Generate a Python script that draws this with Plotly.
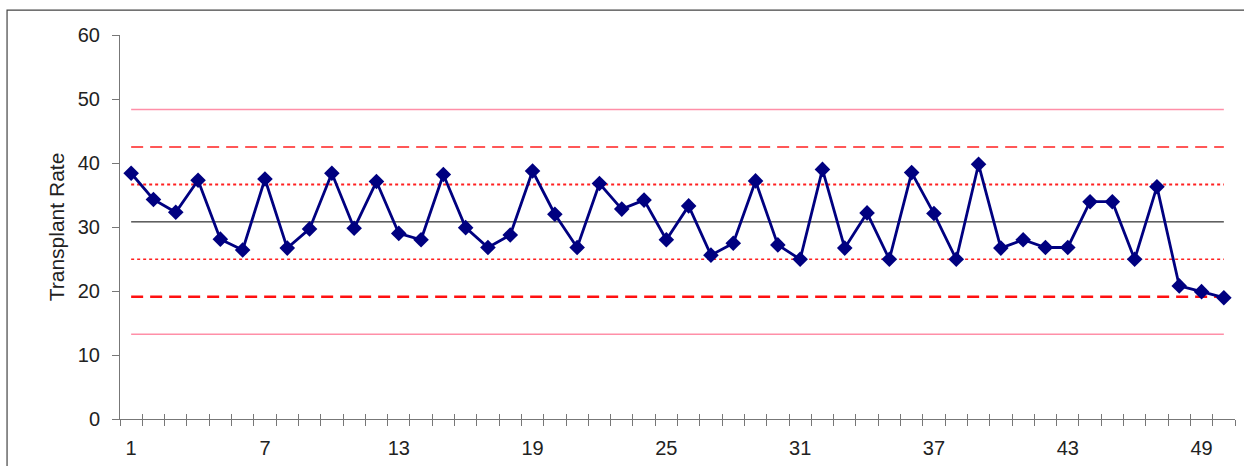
import plotly.graph_objects as go

# ---- data ----
samples = list(range(1, 51))
transplant_rate = [38.4, 34.3, 32.3, 37.3, 28.1, 26.4, 37.5, 26.7, 29.7, 38.4,
                   29.8, 37.1, 29.0, 28.0, 38.2, 29.9, 26.8, 28.75, 38.75, 32.0,
                   26.8, 36.8, 32.8, 34.2, 28.0, 33.3, 25.6, 27.45, 37.2, 27.2,
                   24.95, 39.0, 26.7, 32.2, 24.95, 38.5, 32.1, 24.95, 39.8, 26.7,
                   28.0, 26.8, 26.8, 33.95, 33.95, 24.95, 36.3, 20.8, 19.9, 18.95]
center_line = 30.8
upper_3s, upper_2s, upper_1s = 48.35, 42.5, 36.65
lower_1s, lower_2s, lower_3s = 24.95, 19.1, 13.25
x_tick_labels = [1, 7, 13, 19, 25, 31, 37, 43, 49]
y_ticks = [0, 10, 20, 30, 40, 50, 60]

fig = go.Figure()

limit_styles = [
    (upper_3s, dict(color="#ff8fa8", width=1.5, dash="solid")),
    (upper_2s, dict(color="#ff2020", width=1.5, dash="12px,7px")),
    (upper_1s, dict(color="#ff2020", width=2, dash="dot")),
    (center_line, dict(color="#000000", width=1, dash="solid")),
    (lower_1s, dict(color="#ff2020", width=1.5, dash="dot")),
    (lower_2s, dict(color="#ff1010", width=2.5, dash="12px,7px")),
    (lower_3s, dict(color="#ff8fa8", width=1.5, dash="solid")),
]
for val, style in limit_styles:
    fig.add_trace(go.Scatter(x=[samples[0], samples[-1]], y=[val, val],
                             mode="lines", line=style, hoverinfo="skip",
                             showlegend=False))

fig.add_trace(go.Scatter(x=samples, y=transplant_rate, mode="lines+markers",
                         line=dict(color="#000080", width=2.8),
                         marker=dict(symbol="diamond", size=12, color="#000080"),
                         showlegend=False))

font_main = "Liberation Sans, Arial, sans-serif"
boundaries = [s - 0.5 for s in samples] + [samples[-1] + 0.5]

fig.update_layout(
    width=1244, height=466,
    margin=dict(l=120, r=9, t=35, b=47),
    paper_bgcolor="white", plot_bgcolor="white",
    font=dict(family=font_main, color="#222222"),
    xaxis=dict(range=[0.5, 50.5], showgrid=False, zeroline=False,
               showline=True, linecolor="#777777", linewidth=1,
               automargin=False,
               tickmode="array", tickvals=x_tick_labels,
               ticktext=[str(v) for v in x_tick_labels],
               ticks="outside", ticklen=6, tickcolor="rgba(0,0,0,0)",
               ticklabelstandoff=5,
               tickfont=dict(size=20, family=font_main, color="#222222"),
               minor=dict(tickmode="array", tickvals=boundaries,
                          ticks="outside", ticklen=6, tickcolor="#777777",
                          tickwidth=1)),
    xaxis2=dict(range=[0.5, 50.5], overlaying="x", anchor="y", side="bottom",
                showgrid=False, zeroline=False, showline=False,
                automargin=False,
                tickmode="array", tickvals=boundaries, showticklabels=False,
                ticks="inside", ticklen=5, tickcolor="#777777", tickwidth=1),
    yaxis=dict(range=[0, 60], showgrid=False, zeroline=False,
               showline=True, linecolor="#777777", linewidth=1,
               automargin=False,
               tickmode="array", tickvals=y_ticks,
               ticks="outside", ticklen=7, tickcolor="#777777",
               ticklabelstandoff=8,
               tickfont=dict(size=20, family=font_main, color="#222222"),
               title=dict(text="Transplant Rate", standoff=7,
                          font=dict(size=21, family=font_main, color="#222222"))),
    shapes=[dict(type="rect", xref="paper", yref="paper",
                 x0=-0.1013, x1=1.05, y0=-0.2, y1=1.065,
                 line=dict(color="#444444", width=1.2), layer="below")],
)
# dummy invisible trace to activate xaxis2
fig.add_trace(go.Scatter(x=[1], y=[None], xaxis="x2", showlegend=False,
                         hoverinfo="skip"))

fig.write_html("out.html", config={"displayModeBar": False},
               post_script="document.body.style.margin='0';")
